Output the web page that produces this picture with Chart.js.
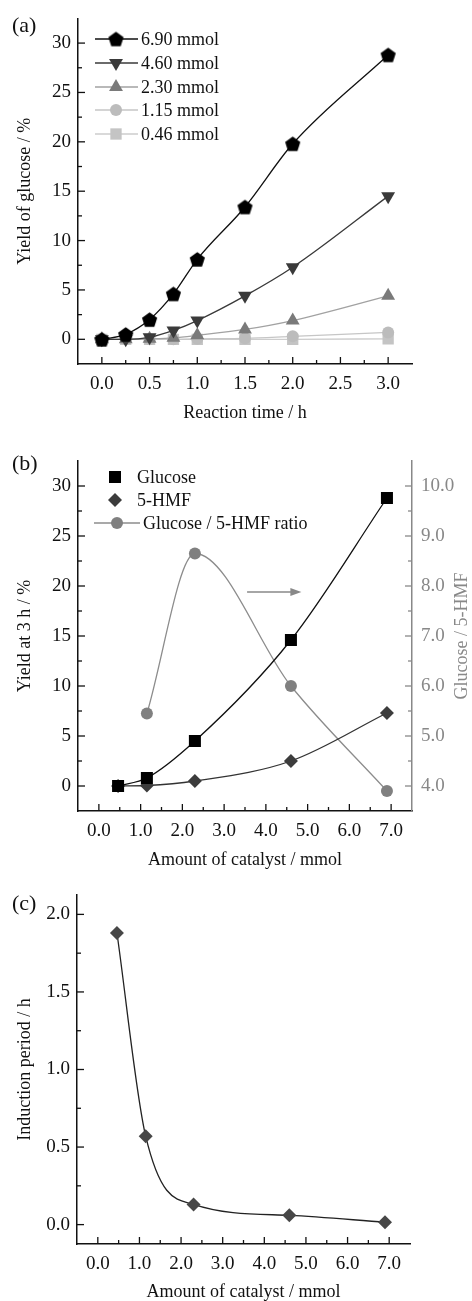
<!DOCTYPE html>
<html>
<head>
<meta charset="utf-8">
<script src="https://cdn.jsdelivr.net/npm/chart.js@4.4.1/dist/chart.umd.min.js"></script>
<style>
  html, body { margin: 0; padding: 0; background: #fff; }
  body { width: 472px; height: 1301px; position: relative; overflow: hidden;
         font-family: 'Liberation Serif', 'Times New Roman', serif; }
  canvas { position: absolute; left: 0; }
  .tag { position: absolute; left: 12px; font-size: 22px; line-height: 1; color: #111; }
</style>
</head>
<body>
<canvas id="chart-a" width="472" height="430" style="top:0"></canvas>
<canvas id="chart-b" width="472" height="445" style="top:430px"></canvas>
<canvas id="chart-c" width="472" height="426" style="top:875px"></canvas>
<div class="tag" style="top:14px">(a)</div>
<div class="tag" style="top:452px">(b)</div>
<div class="tag" style="top:892px">(c)</div>

<script>
// (a) yield of glucose vs reaction time
const TIME_H = [0, 0.25, 0.5, 0.75, 1.0, 1.5, 2.0, 3.0];
const YIELD_690 = [0, 0.5, 2.0, 4.6, 8.1, 13.4, 19.8, 28.8];
const YIELD_460 = [0, 0.0, 0.2, 0.9, 1.9, 4.4, 7.3, 14.5];
const YIELD_230 = [0, 0.0, 0.05, 0.15, 0.4, 1.0, 1.9, 4.4];
const YIELD_115 = [0, 0.0, 0.0, 0.0, 0.05, 0.1, 0.3, 0.7];
const YIELD_046 = [0, 0.0, 0.0, 0.0, 0.0, 0.0, 0.0, 0.05];
const A_LABELS = ['6.90 mmol', '4.60 mmol', '2.30 mmol', '1.15 mmol', '0.46 mmol'];

// (b) yield at 3 h vs amount of catalyst
const CATALYST = [0.46, 1.15, 2.30, 4.60, 6.90];
const GLUCOSE_3H = [0, 0.8, 4.5, 14.6, 28.8];
const HMF_3H = [0, 0.05, 0.5, 2.5, 7.3];
const RATIO = [null, 5.45, 8.65, 6.0, 3.9];
const B_LABELS = ['Glucose', '5-HMF', 'Glucose / 5-HMF ratio'];

// (c) induction period
const INDUCTION = [1.88, 0.57, 0.13, 0.06, 0.015];

// tick labels
const A_X_TICKS = [0, 0.5, 1.0, 1.5, 2.0, 2.5, 3.0];
const A_Y_TICKS = [0, 5, 10, 15, 20, 25, 30];
const CAT_TICKS = [0, 1, 2, 3, 4, 5, 6, 7];
const B_Y_TICKS = [0, 5, 10, 15, 20, 25, 30];
const B_Y2_TICKS = [4, 5, 6, 7, 8, 9, 10];
const C_Y_TICKS = [0, 0.5, 1.0, 1.5, 2.0];

const ARROW_B = { from: 3.55, to: 4.85, at: 19.4 };

const SERIF = "'Liberation Serif', 'Times New Roman', serif";
Chart.defaults.font.family = SERIF;
Chart.defaults.color = '#111';

function pentagon(size, color) {
  const c = document.createElement('canvas');
  c.width = c.height = size;
  const g = c.getContext('2d');
  const r = size / 2 - 0.5;
  g.beginPath();
  for (let i = 0; i < 5; i++) {
    const a = -Math.PI / 2 + i * 2 * Math.PI / 5;
    g.lineTo(size / 2 + r * Math.cos(a), size / 2 + 0.8 + r * Math.sin(a));
  }
  g.closePath();
  g.fillStyle = color;
  g.fill();
  return c;
}

function pts(xs, ys) {
  return xs.map((x, i) => ({ x: x, y: ys[i] })).filter(p => p.y !== null);
}

// ticks pointing into the plot, majors + minors
const innerTicks = {
  id: 'innerTicks',
  afterDatasetsDraw(chart, args, opts) {
    const ctx = chart.ctx;
    Object.keys(opts.scales || {}).forEach(id => {
      const s = chart.scales[id];
      const o = opts.scales[id];
      ctx.save();
      ctx.strokeStyle = o.color || '#111';
      ctx.lineWidth = 1.3;
      const draw = (v, len) => {
        const p = s.getPixelForValue(v);
        ctx.beginPath();
        if (s.isHorizontal()) { ctx.moveTo(p, s.top); ctx.lineTo(p, s.top - len); }
        else if (s.position === 'left') { ctx.moveTo(s.right, p); ctx.lineTo(s.right + len, p); }
        else { ctx.moveTo(s.left, p); ctx.lineTo(s.left - len, p); }
        ctx.stroke();
      };
      const majors = s.ticks.map(t => t.value);
      majors.forEach(v => draw(v, 7));
      for (let k = Math.ceil(s.min / o.minor); k * o.minor <= s.max + 1e-9; k++) {
        const v = Math.round(k * o.minor * 1e6) / 1e6;
        if (v <= s.min + 1e-9 || v >= s.max - 1e-9) continue;
        if (majors.some(m => Math.abs(m - v) < 1e-9)) continue;
        draw(v, 4);
      }
      ctx.restore();
    });
  }
};

// legend drawn inside the plot area
const panelLegend = {
  id: 'panelLegend',
  afterDraw(chart, args, opts) {
    if (!opts.items) return;
    const ctx = chart.ctx;
    ctx.save();
    ctx.font = '18px ' + SERIF;
    ctx.textBaseline = 'middle';
    opts.items.forEach(it => {
      const ds = chart.data.datasets[it.ds];
      if (it.line) {
        ctx.strokeStyle = ds.borderColor;
        ctx.lineWidth = 1.3;
        ctx.beginPath();
        ctx.moveTo(it.line[0], it.y);
        ctx.lineTo(it.line[1], it.y);
        ctx.stroke();
      }
      ctx.fillStyle = ds.pointBackgroundColor;
      ctx.strokeStyle = ds.pointBackgroundColor;
      Chart.helpers.drawPoint(ctx, {
        pointStyle: ds.pointStyle, radius: ds.pointRadius,
        rotation: ds.pointRotation || 0, borderWidth: 0
      }, it.mx, it.y);
      ctx.fillStyle = '#111';
      ctx.fillText(ds.label, it.tx, it.y + 1);
    });
    ctx.restore();
  }
};

// arrow pointing at the right axis, and right-hand axis title
const arrowNote = {
  id: 'arrowNote',
  afterDraw(chart, args, opts) {
    if (!opts.arrow) return;
    const ctx = chart.ctx;
    const xs = chart.scales.x, ys = chart.scales.y;
    const x0 = xs.getPixelForValue(opts.arrow.from);
    const x1 = xs.getPixelForValue(opts.arrow.to);
    const y = ys.getPixelForValue(opts.arrow.at);
    ctx.save();
    ctx.strokeStyle = opts.color;
    ctx.fillStyle = opts.color;
    ctx.lineWidth = 1.4;
    ctx.beginPath();
    ctx.moveTo(x0, y);
    ctx.lineTo(x1 - 8, y);
    ctx.stroke();
    ctx.beginPath();
    ctx.moveTo(x1, y);
    ctx.lineTo(x1 - 11, y - 4);
    ctx.lineTo(x1 - 11, y + 4);
    ctx.closePath();
    ctx.fill();

    const area = chart.chartArea;
    ctx.translate(opts.titleX, (area.top + area.bottom) / 2);
    ctx.rotate(-Math.PI / 2);
    ctx.font = '18px ' + SERIF;
    ctx.textAlign = 'center';
    ctx.textBaseline = 'middle';
    ctx.fillText(opts.title, 0, 0);
    ctx.restore();
  }
};

Chart.register(innerTicks, panelLegend, arrowNote);

function fixedTicks(list) {
  return s => { s.ticks = list.map(v => ({ value: v })); };
}

function axisX(min, max, list, height, title, padBottom) {
  return {
    type: 'linear', min: min, max: max,
    afterBuildTicks: fixedTicks(list),
    afterFit: s => { s.height = height; },
    grid: { display: false, drawTicks: false },
    border: { color: '#111', width: 1.5 },
    ticks: { padding: 9, autoSkip: false, maxRotation: 0, font: { size: 19 },
             callback: v => v.toFixed(1) },
    title: { display: true, text: title, font: { size: 18, lineHeight: 1 },
             padding: { top: 0, bottom: padBottom } }
  };
}

function axisY(min, max, list, width, title, fmt) {
  return {
    min: min, max: max,
    afterBuildTicks: fixedTicks(list),
    afterFit: s => { s.width = width; },
    grid: { display: false, drawTicks: false },
    border: { color: '#111', width: 1.5 },
    ticks: { padding: 7, autoSkip: false, font: { size: 19 }, callback: fmt },
    title: { display: true, text: title, font: { size: 18, lineHeight: 1 },
             padding: { top: 16, bottom: 0 } }
  };
}

function series(label, xs, ys, color, lineColor, style, radius, extra) {
  return Object.assign({
    label: label,
    data: pts(xs, ys),
    borderColor: lineColor,
    borderWidth: 1.3,
    pointBackgroundColor: color,
    pointBorderColor: color,
    pointBorderWidth: 0,
    pointStyle: style,
    pointRadius: radius,
    cubicInterpolationMode: 'monotone',
    fill: false
  }, extra || {});
}

const common = {
  responsive: false,
  animation: false,
  events: []
};

// ---------- (a)
new Chart(document.getElementById('chart-a'), {
  type: 'line',
  data: {
    datasets: [
      series(A_LABELS[0], TIME_H, YIELD_690, '#000', '#111', pentagon(17, '#000'), 8),
      series(A_LABELS[1], TIME_H, YIELD_460, '#3a3a3a', '#3a3a3a', 'triangle', 8, { pointRotation: 180 }),
      series(A_LABELS[2], TIME_H, YIELD_230, '#7a7a7a', '#a2a2a2', 'triangle', 8),
      series(A_LABELS[3], TIME_H, YIELD_115, '#bcbcbc', '#c6c6c6', 'circle', 6),
      series(A_LABELS[4], TIME_H, YIELD_046, '#c4c4c4', '#cdcdcd', 'rect', 8)
    ]
  },
  options: Object.assign({}, common, {
    layout: { padding: { top: 14, right: 60, left: 0, bottom: 0 } },
    plugins: {
      legend: { display: false },
      tooltip: { enabled: false },
      innerTicks: { scales: { x: { minor: 0.25 }, y: { minor: 2.5 } } },
      panelLegend: {
        items: [0, 1, 2, 3, 4].map((i, k) => ({
          ds: i, y: [39, 63, 87, 110, 134][k], line: [95, 138], mx: 116, tx: 141
        }))
      }
    },
    scales: {
      x: axisX(-0.25, 3.25, A_X_TICKS, 66, 'Reaction time / h', 8),
      y: axisY(-2.5, 32.5, A_Y_TICKS, 78, 'Yield of glucose / %', v => String(v))
    }
  })
});

// ---------- (b)
new Chart(document.getElementById('chart-b'), {
  type: 'line',
  data: {
    datasets: [
      series(B_LABELS[0], CATALYST, GLUCOSE_3H, '#000', '#111', 'rect', 8.5),
      series(B_LABELS[1], CATALYST, HMF_3H, '#3c3c3c', '#333', 'rectRot', 7),
      series(B_LABELS[2], CATALYST, RATIO, '#808080', '#8c8c8c', 'circle', 6, { yAxisID: 'y2' })
    ]
  },
  options: Object.assign({}, common, {
    layout: { padding: { top: 31, right: 0, left: 0, bottom: 0 } },
    plugins: {
      legend: { display: false },
      tooltip: { enabled: false },
      innerTicks: { scales: { x: { minor: 0.5 }, y: { minor: 2.5 }, y2: { minor: 0.5, color: '#888' } } },
      panelLegend: {
        items: [
          { ds: 0, y: 47, mx: 115, tx: 137 },
          { ds: 1, y: 70, mx: 115, tx: 137 },
          { ds: 2, y: 93, line: [94, 140], mx: 117, tx: 143 }
        ]
      },
      arrowNote: { arrow: ARROW_B, color: '#888', title: 'Glucose / 5-HMF', titleX: 462 }
    },
    scales: {
      x: axisX(-0.5, 7.5, CAT_TICKS, 64, 'Amount of catalyst / mmol', 6),
      y: axisY(-2.5, 32.5, B_Y_TICKS, 78, 'Yield at 3 h / %', v => String(v)),
      y2: {
        position: 'right', min: 3.5, max: 10.5,
        afterBuildTicks: fixedTicks(B_Y2_TICKS),
        afterFit: s => { s.width = 60; },
        grid: { display: false, drawTicks: false },
        border: { color: '#888', width: 1.5 },
        ticks: { padding: 9, autoSkip: false, color: '#888', font: { size: 19 },
                 callback: v => v.toFixed(1) }
      }
    }
  })
});

// ---------- (c)
new Chart(document.getElementById('chart-c'), {
  type: 'line',
  data: {
    datasets: [
      series('Induction period', CATALYST, INDUCTION, '#474747', '#222', 'rectRot', 7)
    ]
  },
  options: Object.assign({}, common, {
    layout: { padding: { top: 20, right: 62, left: 0, bottom: 0 } },
    plugins: {
      legend: { display: false },
      tooltip: { enabled: false },
      innerTicks: { scales: { x: { minor: 0.5 }, y: { minor: 0.25 } } }
    },
    scales: {
      x: axisX(-0.5, 7.5, CAT_TICKS, 57, 'Amount of catalyst / mmol', 0),
      y: axisY(-0.125, 2.125, C_Y_TICKS, 77, 'Induction period / h', v => v.toFixed(1))
    }
  })
});
</script>
</body>
</html>
